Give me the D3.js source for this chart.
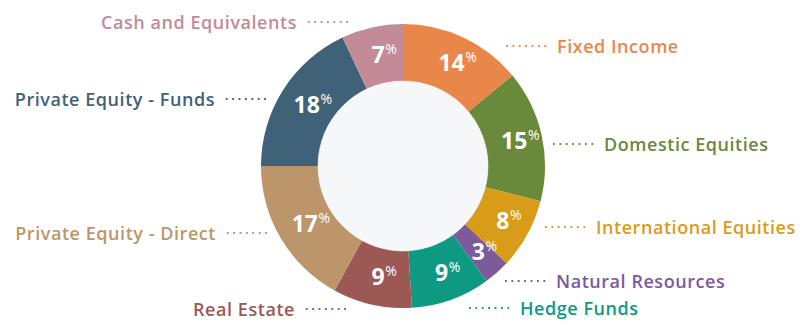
<!DOCTYPE html>
<html>
<head>
<meta charset="utf-8">
<script src="https://cdn.jsdelivr.net/npm/d3@7/dist/d3.min.js"></script>
<style>
  html, body { margin: 0; padding: 0; background: #ffffff; }
  svg { display: block; }
  text { font-family: "Open Sans", "Noto Sans", sans-serif; }
</style>
</head>
<body>
<svg id="chart" width="802" height="326"></svg>
<script>
// Asset allocation, clockwise from 12 o'clock
const categories = [
  "Fixed Income",
  "Domestic Equities",
  "International Equities",
  "Natural Resources",
  "Hedge Funds",
  "Real Estate",
  "Private Equity - Direct",
  "Private Equity - Funds",
  "Cash and Equivalents"
];
const shares = [14, 15, 8, 3, 9, 9, 17, 18, 7];
const colors = [
  "#e9874a", "#698a3a", "#d99c18", "#7c5a9b", "#0e9a82",
  "#9c5855", "#bd956a", "#3f6279", "#c38a98"
];

// Callout placement for each category label: side, leader y, leader x nearest the ring
const calloutLayout = [
  { side: "right", y: 46,  x: 506 },
  { side: "right", y: 144, x: 553 },
  { side: "right", y: 227, x: 545 },
  { side: "right", y: 281, x: 505 },
  { side: "right", y: 308, x: 469 },
  { side: "left",  y: 309, x: 346 },
  { side: "left",  y: 233, x: 267 },
  { side: "left",  y: 99,  x: 266 },
  { side: "left",  y: 22,  x: 348 }
];

const data = categories.map((c, i) => ({ name: c, value: shares[i], color: colors[i], layout: calloutLayout[i] }));

const svg = d3.select("#chart");
const cx = 403, cy = 166;
const outerR = 142, innerR = 85;

const g = svg.append("g").attr("transform", `translate(${cx},${cy})`);

const pie = d3.pie().value(d => d.value).sort(null);
const arc = d3.arc().innerRadius(innerR).outerRadius(outerR);
const labelArc = d3.arc().innerRadius(114).outerRadius(114);

const arcs = pie(data);

g.selectAll("path.slice")
  .data(arcs)
  .join("path")
  .attr("class", "slice")
  .attr("d", arc)
  .attr("fill", d => d.data.color);

// hole
g.append("circle")
  .attr("r", innerR)
  .attr("fill", "#f5f7f9")
  .attr("stroke", "#e8ebee")
  .attr("stroke-width", 0.6);

// value labels: number centred on the slice centroid, % as a small superscript
const valueLabels = g.selectAll("g.val")
  .data(arcs)
  .join("g")
  .attr("class", "val")
  .attr("transform", d => {
    const [x, y] = labelArc.centroid(d);
    return `translate(${x},${y})`;
  });

valueLabels.append("text")
  .attr("class", "num")
  .attr("text-anchor", "middle")
  .attr("y", 8)
  .attr("fill", "#ffffff")
  .attr("font-size", 23)
  .attr("font-weight", 700)
  .text(d => d.data.value);

valueLabels.each(function () {
  const grp = d3.select(this);
  const w = grp.select("text.num").node().getComputedTextLength();
  grp.append("text")
    .attr("x", w / 2 + 0.5)
    .attr("y", -1)
    .attr("fill", "#ffffff")
    .attr("font-size", 14)
    .attr("font-weight", 400)
    .text("%");
});

// category callouts with dotted leaders
const leaderLen = 42, gap = 9;
const callouts = svg.selectAll("g.callout")
  .data(data)
  .join("g")
  .attr("class", "callout");

callouts.append("line")
  .attr("x1", d => d.layout.x)
  .attr("x2", d => d.layout.side === "right" ? d.layout.x + leaderLen : d.layout.x - leaderLen)
  .attr("y1", d => d.layout.y)
  .attr("y2", d => d.layout.y)
  .attr("stroke", d => d.color)
  .attr("stroke-width", 1.8)
  .attr("stroke-dasharray", "1.8 4.6");

callouts.append("text")
  .attr("x", d => d.layout.side === "right" ? d.layout.x + leaderLen + gap : d.layout.x - leaderLen - gap)
  .attr("y", d => d.layout.y + 6.5)
  .attr("text-anchor", d => d.layout.side === "right" ? "start" : "end")
  .attr("fill", d => d.color)
  .attr("font-size", 18)
  .attr("font-weight", 600)
  .attr("letter-spacing", 0.55)
  .text(d => d.name);
</script>
</body>
</html>
